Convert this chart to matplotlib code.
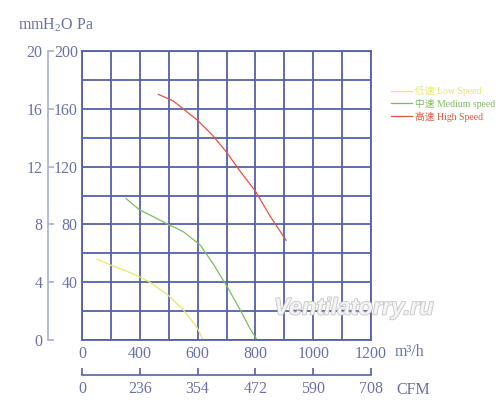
import numpy as np
import matplotlib
matplotlib.use('Agg')
import matplotlib.pyplot as plt
import matplotlib.patheffects as pe

# flow axis (m3/h) is not linear on the sheet, tick positions are evenly spaced
flow_ticks = [0, 400, 600, 800, 1000, 1200]
flow_grid = [0, 200, 400, 500, 600, 700, 800, 900, 1000, 1100, 1200]
cfm_labels = ['0', '236', '354', '472', '590', '708']
pa_ticks = [40, 80, 120, 160, 200]
mm_ticks = [0, 4, 8, 12, 16, 20]

low_flow = [104, 194, 300, 400, 435, 498, 550, 597, 619]
low_pa = [56, 52, 48, 43.6, 40, 31, 21, 9, 0]

medium_flow = [304, 350, 400, 450, 498, 550, 608, 653, 702, 747, 781, 806]
medium_pa = [98, 94, 90, 85, 80, 75, 66, 53, 37, 21, 8, 0]

high_flow = [464, 515, 550, 600, 650, 700, 750, 800, 850, 906]
high_pa = [170, 165.5, 160, 152, 142, 130, 116, 103, 86, 69]

labels = ['低速 Low Speed', '中速 Medium speed', '高速 High Speed']
colors = ['#ece46a', '#7cbf5a', '#e5533f']

grid_col = '#5561a8'
text_col = '#6872a8'
PX = 0.72  # points per pixel at dpi 100

plt.rcParams['font.family'] = ['Liberation Serif', 'Noto Sans CJK SC']
plt.rcParams['mathtext.fontset'] = 'custom'
plt.rcParams['mathtext.rm'] = 'Liberation Serif'

tick_pos = np.arange(len(flow_ticks)) * 2.0


def fwd(x):
    return np.interp(x, flow_ticks, tick_pos)


def inv(x):
    return np.interp(x, tick_pos, flow_ticks)


fig = plt.figure(figsize=(5, 4.17), dpi=100)
ax = fig.add_axes([82 / 500, 1 - 340 / 417, 289 / 500, 289 / 417])

for fl, pa, c, lab in zip([low_flow, medium_flow, high_flow],
                          [low_pa, medium_pa, high_pa], colors, labels):
    ax.plot(fl, pa, color=c, lw=0.9, label=lab)

ax.set_xscale('function', functions=(fwd, inv))
ax.set_xlim(0, 1200)
ax.set_ylim(0, 200)
ax.set_xticks(flow_ticks)
ax.set_xticklabels([str(v) for v in flow_ticks])
ax.set_xticks(flow_grid, minor=True)
ax.set_yticks(pa_ticks)
ax.set_yticklabels([str(v) for v in pa_ticks])
ax.set_yticks(np.arange(0, 201, 20), minor=True)
ax.grid(which='both', color=grid_col, lw=1.3)
ax.set_axisbelow(True)
ax.tick_params(which='both', length=0, colors=text_col, labelsize=11.5)
ax.tick_params(axis='x', pad=4)
ax.tick_params(axis='y', pad=3)
for s in ax.spines.values():
    s.set_color(grid_col)
    s.set_linewidth(1.3)

# mmH2O axis on the far left
ax2 = ax.twinx()
ax2.set_ylim(0, 20)
ax2.set_yticks(mm_ticks)
ax2.yaxis.set_ticks_position('left')
ax2.yaxis.set_label_position('left')
ax2.spines['left'].set_position(('outward', 34 * PX))
for k in ['right', 'top', 'bottom']:
    ax2.spines[k].set_visible(False)
ax2.spines['left'].set_color('#aab0d0')
ax2.spines['left'].set_linewidth(1.2)
ax2.tick_params(axis='y', direction='in', length=6 * PX, width=1.2,
                colors=text_col, labelsize=11.5, pad=4)
ax2.tick_params(axis='y', color='#aab0d0')

# CFM axis below
ax3 = ax.twiny()
ax3.set_xscale('function', functions=(fwd, inv))
ax3.set_xlim(0, 1200)
ax3.set_xticks(flow_ticks)
ax3.set_xticklabels(cfm_labels)
ax3.xaxis.set_ticks_position('bottom')
ax3.xaxis.set_label_position('bottom')
ax3.spines['bottom'].set_position(('outward', 35 * PX))
for k in ['right', 'top', 'left']:
    ax3.spines[k].set_visible(False)
ax3.spines['bottom'].set_color(grid_col)
ax3.spines['bottom'].set_linewidth(1.2)
ax3.tick_params(axis='x', direction='in', length=7 * PX, width=1.2,
                colors=text_col, labelsize=11.5, pad=4)
ax3.tick_params(axis='x', color=grid_col)

fig.text(18 / 500, 1 - 25 / 417, 'mmH$_2$O Pa', color=text_col, fontsize=11.5,
         ha='left', va='center')
fig.text(395 / 500, 1 - 352 / 417, 'm³/h', color=text_col, fontsize=11.5,
         ha='left', va='center')
fig.text(396 / 500, 1 - 390 / 417, 'CFM', color=text_col, fontsize=11.5,
         ha='left', va='center')

# watermark
wm = fig.text(354 / 500, 1 - 308 / 417, 'Ventilatorry.ru', color='#f6f6f6',
              fontsize=17, fontweight='bold', fontstyle='italic',
              family='Liberation Sans', ha='center', va='center', alpha=0.9)
wm.set_path_effects([pe.withStroke(linewidth=1.2, foreground='#c0c0c0')])

leg = fig.legend(loc='upper left', bbox_to_anchor=(391 / 500, 1 - 86 / 417),
                 frameon=False, fontsize=7, handlelength=2.2,
                 handletextpad=0.3, labelspacing=0.25, borderpad=0,
                 borderaxespad=0, labelcolor='linecolor')

fig.savefig('out.png', dpi=100)
